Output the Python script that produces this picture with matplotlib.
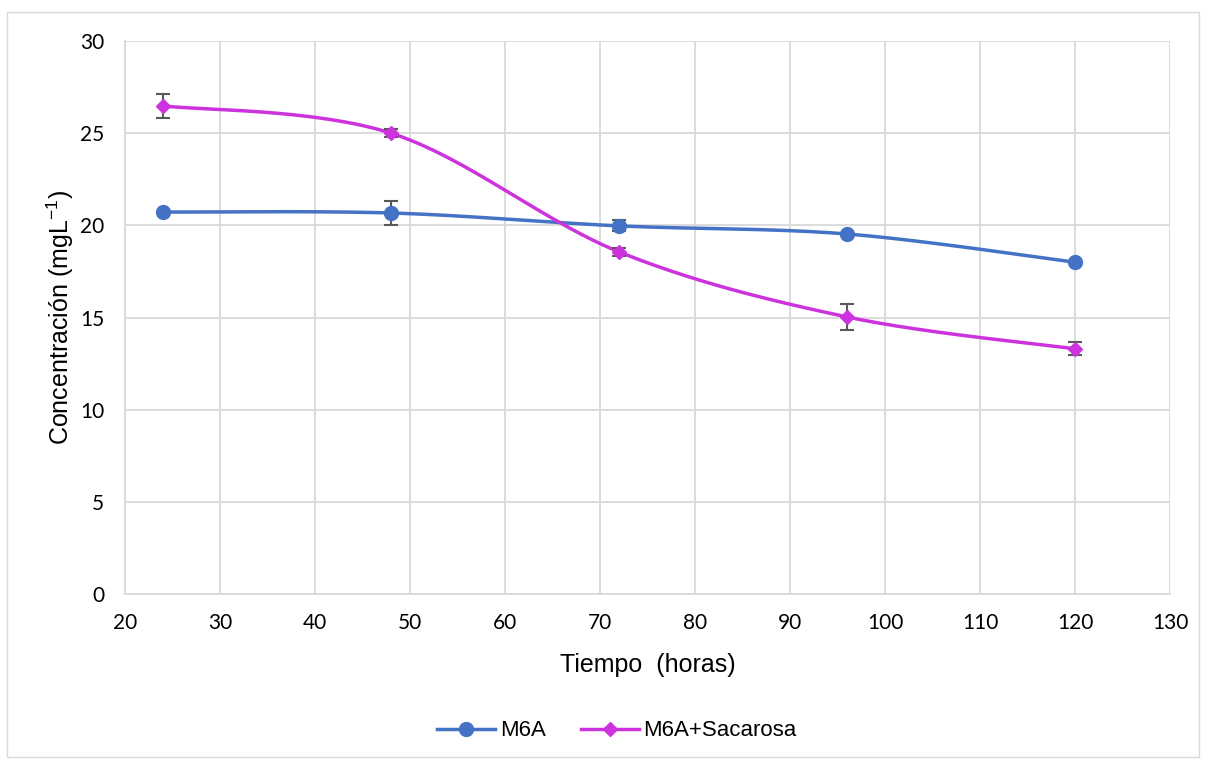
import numpy as np
import matplotlib
matplotlib.use("Agg")
import matplotlib.pyplot as plt
from matplotlib.patches import Rectangle

tiempo = [24, 48, 72, 96, 120]
m6a = [20.72, 20.67, 19.97, 19.53, 18.0]
m6a_err = [0.0, 0.65, 0.3, 0.0, 0.0]
sac = [26.48, 25.0, 18.56, 15.03, 13.3]
sac_err = [0.65, 0.2, 0.2, 0.7, 0.35]

xticks = list(range(20, 131, 10))
yticks = list(range(0, 31, 5))

BLUE = "#4472C4"
MAG = "#CC33DD"


def smooth(x, y, n=60):
    x = np.asarray(x, float)
    y = np.asarray(y, float)
    px = np.concatenate([[x[0]], x, [x[-1]]])
    py = np.concatenate([[y[0]], y, [y[-1]]])
    xs, ys = [], []
    t = np.linspace(0, 1, n)
    for i in range(1, len(px) - 2):
        p0 = np.array([px[i], py[i]])
        p3 = np.array([px[i + 1], py[i + 1]])
        p1 = p0 + (np.array([px[i + 1], py[i + 1]]) - np.array([px[i - 1], py[i - 1]])) / 6
        p2 = p3 - (np.array([px[i + 2], py[i + 2]]) - np.array([px[i], py[i]])) / 6
        b = ((1 - t) ** 3)[:, None] * p0 + (3 * (1 - t) ** 2 * t)[:, None] * p1 \
            + (3 * (1 - t) * t ** 2)[:, None] * p2 + (t ** 3)[:, None] * p3
        xs.extend(b[:, 0]); ys.extend(b[:, 1])
    return xs, ys


fig = plt.figure(figsize=(12.09, 7.61), dpi=100)
fig.patches.append(Rectangle((7 / 1209, 4 / 761), 1192 / 1209, 745 / 761,
                             transform=fig.transFigure, fill=False,
                             edgecolor="#d9d9d9", linewidth=1))
ax = fig.add_axes([125 / 1209, 1 - 594 / 761, 1045 / 1209, 553 / 761])

tick_font = "Lato"
for y, e, c, mk, ms, lab in [(m6a, m6a_err, BLUE, "o", 10, "M6A"),
                             (sac, sac_err, MAG, "D", 7.5, "M6A+Sacarosa")]:
    sx, sy = smooth(tiempo, y)
    ax.plot(sx, sy, color=c, lw=2.5, zorder=3)
    ax.errorbar(tiempo, y, yerr=e, fmt="none", ecolor="#595959", elinewidth=1.5,
                capsize=5, capthick=1.5, zorder=4)
    ax.plot(tiempo, y, linestyle="none", marker=mk, color=c, ms=ms, zorder=5)
    ax.plot([], [], color=c, lw=2.5, marker=mk, ms=ms, label=lab)

ax.set_xlim(20, 130)
ax.set_ylim(0, 30)
ax.set_xticks(xticks)
ax.set_yticks(yticks)
ax.grid(True, color="#d9d9d9", lw=1.3)
ax.set_axisbelow(True)
for s in ["top", "right"]:
    ax.spines[s].set_visible(False)
for s in ["left", "bottom"]:
    ax.spines[s].set_color("#d9d9d9")
    ax.spines[s].set_linewidth(1.3)
ax.tick_params(axis="x", length=0, labelsize=15, pad=14)
ax.tick_params(axis="y", length=0, labelsize=15, pad=15)
for lbl in ax.get_xticklabels() + ax.get_yticklabels():
    lbl.set_fontfamily(tick_font)
    lbl.set_color("#000000")

ax.set_xlabel("Tiempo  (horas)", fontsize=18, family="Liberation Sans", labelpad=14)
ax.set_ylabel("Concentración (mgL$^{\\mathregular{-1}}$)", fontsize=18,
              family="Liberation Sans", labelpad=3)

fig.legend(loc="center", bbox_to_anchor=(617 / 1209, 1 - 731 / 761), ncol=2, frameon=False,
           prop={"family": "Liberation Sans", "size": 16}, handlelength=2.6,
           columnspacing=1.6, handletextpad=0.2)

fig.savefig("out.png", dpi=100)
